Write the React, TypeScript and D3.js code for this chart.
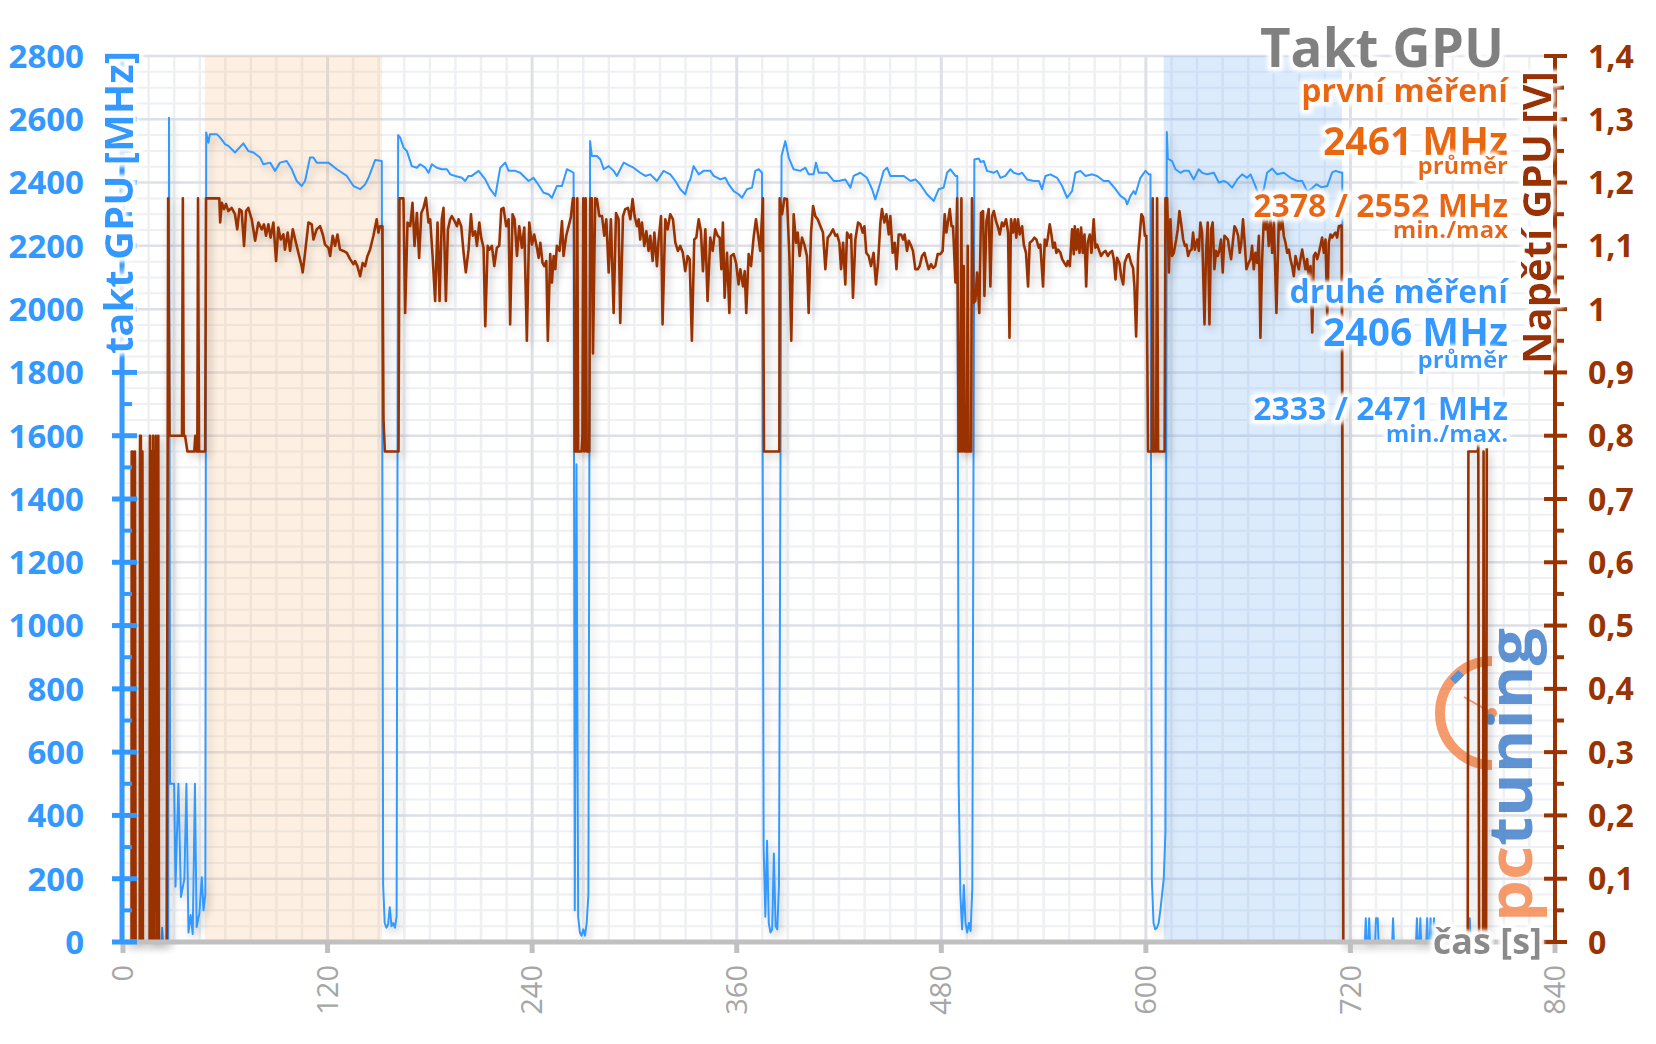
import React from 'react';
import * as d3 from 'd3';

type P = [number, number];

// ---------- DATA ----------
const xTicks = [0, 120, 240, 360, 480, 600, 720, 840];
const clockTicks = [0, 200, 400, 600, 800, 1000, 1200, 1400, 1600, 1800, 2000, 2200, 2400, 2600, 2800];
const voltTicks = [0, 0.1, 0.2, 0.3, 0.4, 0.5, 0.6, 0.7, 0.8, 0.9, 1.0, 1.1, 1.2, 1.3, 1.4];
const voltLabels = ['0', '0,1', '0,2', '0,3', '0,4', '0,5', '0,6', '0,7', '0,8', '0,9', '1', '1,1', '1,2', '1,3', '1,4'];
const bandFirst: P = [48, 152];
const bandSecond: P = [610.5, 715];

// GPU clock [MHz] as [time s, MHz]
const clockA: P[] = [[0,0],[6.5,0],[7,20],[7.5,0],[16.5,0],[17,15],[17.5,0],[19,0],[19.5,25],[20,0],[22.5,0],[23,45],[23.5,0],[26.5,0],[27,2605],[27.6,500],[30,500],[30.8,175],[32.5,500],[34,142],[36,200],[37.2,500],[38.4,30],[39.7,85],[40.9,25],[42.2,500],[43.2,47],[44.8,90],[46.2,205],[47.2,100],[48.3,150],[48.8,2558]];
const clockB: P[] = [[50.1,2526],[51,2553],[55,2553],[57,2542],[60,2521],[61.8,2516],[65.7,2495],[70.6,2524],[73.5,2500],[76.5,2495],[80.4,2479],[82.3,2458],[86.3,2463],[89.2,2437],[92.1,2463],[96,2468],[99,2442],[101.9,2405],[104.8,2389],[106.8,2405],[109.7,2479],[111.7,2479],[113.6,2463],[120.5,2463],[125.4,2442],[131.3,2421],[135.2,2389],[139.1,2379],[142,2394],[144,2415],[147.9,2471],[151.8,2468],[152.6,180],[153.5,60],[154.5,45],[155.5,55],[156.5,110],[157.5,50],[158.5,60],[159.5,45],[160.5,80],[161.4,2550]];
const clockC: P[] = [[162.6,2542],[164.6,2510],[166.5,2500],[169.4,2452],[172.4,2447],[174.3,2458],[177.3,2447],[179.2,2431],[181.2,2458],[184.1,2447],[187,2442],[190,2442],[192,2426],[194.9,2421],[198.8,2415],[200.7,2405],[202.7,2421],[204.6,2421],[208.6,2437],[212.5,2410],[215.4,2379],[218.4,2358],[221.3,2447],[224.2,2463],[226.2,2437],[230.1,2437],[233,2431],[237.9,2405],[240.8,2415],[242.8,2400],[246.7,2368],[249.6,2363],[251.6,2352],[254.5,2389],[257.5,2389],[260.4,2442],[262.4,2437],[264.3,2431],[265,100],[266,1510],[267,80],[268,30],[269,20],[270,40],[271,20],[272,60],[273,150]];
const clockD: P[] = [[274,2531],[275,2484],[278,2484],[280,2473],[282,2442],[284.9,2452],[287.8,2437],[289.7,2421],[293.7,2463],[297.6,2452],[299.5,2447],[303.4,2431],[306.4,2421],[309.3,2426],[313.2,2405],[317.1,2437],[321,2426],[324,2405],[326.9,2379],[329.8,2363],[331.8,2400],[332.8,2410],[334.7,2452],[337.7,2426],[340.6,2437],[344.5,2437],[346.5,2421],[350.4,2410],[353.3,2415],[355.3,2394],[358.2,2373],[361.1,2363],[363.1,2352],[366,2379],[369,2384],[370.9,2437],[372.9,2442],[374.8,2431],[375.8,300],[376.8,80],[377.8,320],[378.8,60],[379.8,30],[380.8,40],[381.8,280],[382.8,50],[383.8,40],[384.8,180]];
const clockE: P[] = [[386.3,2484],[388.5,2531],[390.5,2479],[393.4,2442],[397.3,2437],[400.3,2447],[402.2,2426],[405.1,2426],[406.5,2463],[408.1,2431],[413,2431],[416.9,2405],[419.8,2405],[423.7,2410],[426.7,2384],[428.6,2421],[432.5,2431],[436.4,2415],[439.4,2379],[441.3,2347],[444.3,2400],[446.2,2437],[448.2,2447],[450.1,2421],[454,2421],[458,2421],[461.9,2405],[464.8,2410],[467.7,2394],[471.6,2363],[475.6,2342],[478.5,2379],[481.4,2384],[483.4,2431],[485.3,2442],[488.3,2421],[489.4,2421],[490.2,500],[491.2,150],[492.2,40],[493.2,180],[494.2,60],[495.2,30],[496.2,60],[497.2,35],[498.2,170]];
const clockF: P[] = [[499.4,2473],[502,2476],[503,2465],[504.9,2468],[506.8,2437],[510.8,2431],[512.7,2437],[514.7,2415],[517.6,2421],[520.5,2442],[522.5,2431],[525.4,2426],[527.4,2431],[530.3,2410],[534.2,2405],[537.2,2405],[539.1,2379],[541.1,2421],[544,2426],[547.9,2415],[550.9,2389],[553.8,2352],[556.7,2373],[558.7,2431],[561.6,2437],[564.6,2421],[568.5,2426],[571.4,2421],[575.3,2405],[578.2,2405],[582.2,2379],[585.1,2358],[588,2347],[589,2331],[591,2358],[592.9,2373],[593.9,2363],[596.8,2415],[599.8,2437],[601.7,2426],[602.7,2426],[603.5,200],[604.5,60],[605.5,40],[606.5,45],[607.5,60],[608.5,100],[609.5,150],[610.5,200],[611.5,350]];
const clockG: P[] = [[612.3,2560],[612.9,2476],[615.4,2468],[617.4,2442],[620.3,2431],[622.3,2437],[625.2,2437],[628.1,2410],[631,2442],[633,2431],[635.9,2426],[639.9,2431],[642.8,2400],[645.8,2405],[647.7,2400],[650.6,2384],[653.6,2410],[656.5,2426],[659.4,2415],[661.4,2426],[664.3,2389],[666.3,2358],[669.2,2379],[671.1,2431],[674.1,2444],[677,2426],[680.9,2431],[684.8,2415],[688.8,2405],[691.7,2405],[694.6,2373],[697,2380],[700,2395],[703,2385],[706.4,2389],[709.3,2432],[711.3,2437],[714.2,2432],[715.2,2432],[715.8,0],[728.5,0],[729,75],[729.5,0],[730.5,0],[731,75],[731.5,0],[734.5,0],[735,75],[736,75],[736.5,0],[744.5,0],[745,75],[745.5,0],[758.5,0],[759,75],[759.5,0],[760.5,0],[761,75],[761.5,0],[764.5,0],[765,75],[765.5,0],[766.5,0],[767,75],[767.5,0],[768.5,0],[769,75],[769.5,0],[789.5,0],[790,75],[790.5,0],[800,0]];

// GPU voltage [V] as [time s, V]
const voltA: P[] = [[0,0],[5,0],[5.1,0.775],[5.6,0.775],[5.8,0],[6.8,0],[7,0.775],[7.4,0],[9.8,0],[10,0.8],[10.5,0.8],[10.7,0],[11.2,0],[11.4,0.775],[11.7,0],[15.6,0],[15.8,0.8],[16.2,0],[16.8,0.775],[17.2,0],[17.6,0.8],[18,0],[18.4,0.775],[18.8,0.05],[19.2,0.8],[19.6,0],[20,0.775],[20.4,0],[20.7,0.8],[21.1,0],[25.6,0],[26.5,1.175],[27.3,0.8],[34.6,0.8],[35.1,1.175],[35.6,0.8],[36.4,0.8],[37.8,0.775],[41.8,0.775],[42.4,0.8],[43,0.775],[43.6,0.775],[44,1.175],[44.6,0.775],[48.2,0.775],[48.7,1.175],[56,1.175]];
const voltB: P[] = [[56.5,1.175],[57,1.137],[58,1.168],[59.3,1.158],[60.4,1.166],[61.8,1.155],[63.7,1.160],[65.7,1.150],[67,1.126],[68.3,1.158],[69.6,1.155],[71,1.100],[72.2,1.155],[73.5,1.160],[75.5,1.142],[77.5,1.108],[79.4,1.137],[81.4,1.126],[82.7,1.134],[83.9,1.116],[85.3,1.134],[86.6,1.113],[88.2,1.137],[89.8,1.076],[91.1,1.129],[92.5,1.110],[94.1,1.118],[95,1.094],[96.6,1.121],[98,1.092],[99.6,1.126],[101,1.110],[102.9,1.089],[104.8,1.068],[105.4,1.058],[106.8,1.089],[108.8,1.137],[110.7,1.134],[111.7,1.110],[113.6,1.126],[115.6,1.131],[117.2,1.118],[118.5,1.102],[120.5,1.097],[121.5,1.084],[123,1.116],[124.4,1.100],[125.8,1.118],[127.3,1.094],[129.3,1.092],[131.3,1.089],[133.2,1.079],[135.2,1.071],[136.1,1.076],[137.5,1.068],[139.1,1.052],[140.6,1.073],[142,1.068],[143.4,1.084],[144.9,1.094],[146.9,1.116],[148.8,1.142],[149.8,1.121],[150.8,1.131],[152.2,1.131],[152.8,0.826],[153.6,0.775],[161.6,0.775],[162.2,1.175]];
const voltC: P[] = [[164.5,1.175],[165.5,0.994],[166.9,1.137],[168.5,1.131],[169.8,1.168],[171,1.100],[172.4,1.152],[173.7,1.081],[175,1.152],[176.3,1.160],[177.7,1.176],[179.2,1.137],[180.2,1.142],[181.6,1.084],[183.1,1.013],[184.5,1.137],[185.7,1.013],[187,1.142],[188,1.160],[189.4,1.013],[190.6,1.126],[191.9,1.142],[192.9,1.147],[194.5,1.139],[195.9,1.131],[196.8,1.142],[198.4,1.131],[199.8,1.089],[201.1,1.058],[202.7,1.094],[204.1,1.150],[205.2,1.116],[206.6,1.123],[207.6,1.100],[209,1.137],[210.1,1.113],[211.5,1.097],[212.5,0.973],[213.9,1.100],[215,1.094],[216.4,1.100],[217.8,1.068],[219.3,1.097],[220.7,1.100],[221.9,1.158],[223.2,1.160],[224.8,1.131],[226.2,1.142],[227.1,0.976],[228.5,1.150],[229.7,1.142],[231.1,1.084],[232.4,1.131],[234,1.097],[235.4,1.129],[236.9,0.950],[238.3,1.137],[239.9,1.102],[241.2,1.118],[242.8,1.097],[243.8,1.081],[244.8,1.105],[246.1,1.073],[247.1,1.068],[248.3,1.076],[249.2,0.950],[250.6,1.087],[251.6,1.042],[252.6,1.084],[253.6,1.063],[254.5,1.100],[256.1,1.092],[257.5,1.139],[258.4,1.084],[260,1.116],[261.4,1.131],[262.7,1.145],[263.9,1.175],[264.6,1.175],[265,0.775],[266,0.775],[266.5,1.175],[267,0.775],[269,0.775],[269.5,0.8],[270,1.175],[270.5,0.775],[271.4,1.175],[272,0.775],[273.5,0.775],[274.1,1.175],[275,1.175],[275.7,0.93],[277,1.175]];
const voltD: P[] = [[278,1.174],[279.4,1.147],[281,1.147],[282.3,1.116],[283.5,1.142],[284.9,1.058],[286.2,1.142],[287.8,0.994],[289.2,1.152],[290.7,1.142],[291.7,0.978],[293.3,1.147],[294.6,1.158],[296.2,1.160],[297.6,1.142],[298.9,1.174],[300.1,1.147],[301.5,1.131],[302.5,1.142],[303.4,1.110],[304.4,1.137],[305.8,1.100],[307,1.123],[308.3,1.092],[309.3,1.116],[310.7,1.076],[311.7,1.121],[313.2,1.068],[314.2,1.110],[315.6,1.147],[316.5,0.976],[318.1,1.142],[319.5,1.126],[321,1.150],[322.6,1.142],[324,1.105],[325.5,1.092],[326.9,1.100],[328.4,1.089],[329.8,1.060],[331.2,1.084],[332.4,1.079],[333.7,0.950],[335.1,1.110],[336.3,1.113],[337.7,1.142],[339,1.123],[340.2,1.060],[341.6,1.126],[342.9,1.013],[344.5,1.113],[345.9,1.092],[347.4,1.126],[348.8,1.116],[350,1.113],[351,1.063],[351.9,1.137],[352.9,1.018],[354.3,1.089],[355.7,0.994],[356.6,1.084],[358.2,1.087],[359.6,1.073],[361.1,1.039],[362.1,1.063],[363.7,1.036],[364.7,1.060],[365.6,0.994],[367,1.087],[368.4,1.068],[369.9,1.113],[371.3,1.142],[372.5,1.118],[373.8,1.092],[375.4,1.175],[376,0.775],[385,0.775],[385.2,1.175]];
const voltE: P[] = [[386.6,1.150],[388,1.175],[389.5,1.174],[390.9,1.084],[392,0.950],[393.4,1.150],[394.8,1.105],[395.8,1.121],[396.9,1.084],[398.3,1.113],[399.7,1.102],[401.2,1.084],[402.2,0.994],[403.6,1.121],[404.8,1.163],[406.1,1.147],[407.5,1.142],[409.1,1.131],[410.6,1.121],[412,1.063],[413.4,1.113],[414.9,1.118],[416.5,1.126],[417.9,1.116],[418.9,1.118],[420.2,1.105],[421.2,1.063],[422.4,1.105],[423.7,1.039],[424.7,1.121],[426.1,1.113],[427.1,1.118],[428.2,1.018],[429.6,1.110],[431.2,1.137],[432.5,1.134],[433.9,1.121],[434.9,1.131],[436,1.089],[437.4,1.084],[438.8,1.068],[440.3,1.089],[441.7,1.039],[442.9,1.073],[444.3,1.137],[445.2,1.158],[446.6,1.137],[447.8,1.150],[449.2,1.118],[450.1,1.147],[451.5,1.089],[452.7,1.105],[453.7,1.063],[455,1.118],[456.4,1.118],[457.6,1.110],[458.5,1.118],[459.9,1.092],[460.9,1.108],[462.3,1.100],[463.4,1.092],[464.8,1.063],[466.2,1.063],[467.3,1.068],[468.7,1.084],[470.1,1.089],[471.6,1.073],[472.6,1.063],[474,1.071],[475.2,1.065],[476.5,1.068],[477.9,1.087],[479.5,1.087],[480.8,1.092],[482,1.150],[483,1.121],[484,1.139],[485,1.158],[486,1.131],[486.9,1.131],[488.3,1.042],[489.3,1.175],[490.2,0.775],[491,0.775],[491.8,1.175],[492.3,0.775],[493.2,1.068],[493.7,0.775],[495,0.775],[495.5,1.1],[496,0.775],[497.5,0.775],[498,1.175]];
const voltF: P[] = [[499,1.010],[500,1.013],[501,1.058],[502.3,0.994],[503.3,1.152],[504.5,1.155],[505.3,1.021],[506.5,1.139],[507.8,1.158],[508.8,1.036],[509.8,1.147],[510.8,1.155],[512.1,1.139],[513.3,1.129],[514.3,1.118],[515.6,1.137],[516.6,1.131],[518,1.142],[519.2,1.121],[520,0.955],[520.9,1.142],[522.1,1.121],[523.1,1.142],[524,1.113],[525,1.142],[526,1.118],[527.4,1.131],[528.4,1.102],[529.7,1.089],[530.9,1.036],[531.9,1.105],[533.3,1.108],[534.6,1.113],[535.8,1.110],[537.2,1.097],[538.1,1.102],[539.7,1.036],[540.7,1.110],[541.7,1.100],[542.5,1.113],[543.6,1.134],[544.6,1.118],[545.6,1.097],[546.6,1.105],[547.5,1.089],[548.5,1.094],[549.9,1.089],[550.9,1.079],[552.2,1.073],[553.4,1.068],[554.2,1.076],[555.4,1.068],[556.7,1.126],[557.7,1.087],[558.3,1.131],[559.3,1.094],[560.1,1.126],[561.1,1.089],[562,1.129],[563,1.089],[564,1.118],[565,1.036],[565.9,1.105],[567.1,1.118],[568.1,1.089],[569.4,1.142],[570.4,1.097],[571.4,1.102],[572.4,1.094],[573.7,1.084],[574.9,1.089],[576.3,1.092],[577.7,1.084],[578.8,1.089],[580.2,1.092],[581.2,1.079],[582.2,1.047],[583.1,1.081],[584.5,1.073],[585.5,1.052],[586.7,1.039],[587.6,1.073],[589,1.084],[590,1.087],[591.3,1.073],[592.5,1.065],[593.3,1.036],[594.3,0.957],[595.5,1.089],[596.4,1.116],[597.4,1.150],[598.4,1.145],[599.4,1.116],[600.3,1.116],[601.3,0.775],[602,0.775],[603.5,0.775],[604,1.175],[604.5,0.775],[606,0.775],[606.6,1.175],[607.2,0.775],[611,0.775],[611.5,1.175]];
const voltG: P[] = [[612.5,1.175],[613.5,1.058],[614.4,1.142],[615.4,1.084],[616.4,1.089],[617.8,1.110],[618.7,1.126],[619.7,1.155],[620.9,1.131],[621.9,1.110],[622.9,1.100],[623.8,1.102],[624.8,1.084],[625.8,1.092],[626.8,1.094],[627.7,1.121],[628.7,1.094],[630.1,1.110],[631.1,1.092],[632,1.137],[633,1.121],[634.4,0.976],[635.3,1.089],[636.3,1.137],[637.3,0.976],[638.3,1.126],[639.2,1.137],[640.2,1.063],[641.2,1.092],[642.2,1.084],[643.2,1.094],[644.1,1.110],[645.1,1.058],[646.1,1.116],[647.1,1.113],[648.1,1.110],[649,1.094],[650,1.079],[651,1.105],[652,1.131],[653,1.126],[654.1,1.116],[655.1,1.089],[656,1.105],[657,1.142],[658.1,1.100],[659,1.063],[660.3,1.073],[661.4,1.079],[662.3,1.100],[663.3,1.063],[664.3,1.089],[665.3,1.073],[666.3,1.116],[667.2,0.955],[668.2,1.079],[669.2,1.142],[670.2,1.126],[671.1,1.142],[672.1,1.100],[673.1,1.142],[674.1,1.089],[675.1,1.137],[676.6,0.994],[678,1.142],[679,1.126],[680,1.142],[680.9,1.116],[681.9,1.105],[682.9,1.089],[683.9,1.094],[684.8,1.079],[685.8,1.068],[686.8,1.052],[687.8,1.084],[688.7,1.073],[689.7,1.063],[690.7,1.079],[691.7,1.094],[693.6,1.063],[694.6,1.079],[695.6,1.047],[696.6,1.068],[697.6,0.963],[698.5,1.084],[699.5,1.089],[700.5,1.079],[701.5,1.089],[702.4,1.100],[703.4,1.113],[704.4,1.089],[705.4,1.110],[706.4,0.989],[707.3,1.105],[708.3,1.118],[709.3,1.113],[710.3,1.118],[711.2,1.121],[712.2,1.113],[713.2,1.131],[714.2,1.132],[714.8,1.132],[715.2,0.8],[715.8,0],[788.8,0],[789.2,0.775],[794.8,0.775],[795,0.79],[795.5,0],[797.8,0],[798.1,0.775],[798.6,0],[799.6,0],[800,0.78]];

const clockData: P[] = [...clockA, ...clockB, ...clockC, ...clockD, ...clockE, ...clockF, ...clockG];
const voltData: P[] = [...voltA, ...voltB, ...voltC, ...voltD, ...voltE, ...voltF, ...voltG];

// ---------- LAYOUT ----------
const W = 1656, H = 1044;
const X0 = 123, X1 = 1555, YB = 942, YT = 56;
const FONT = "'Open Sans', 'Noto Sans', 'DejaVu Sans', sans-serif";
const BLUE = '#3399ff';
const BROWN = '#993300';
const ORANGE = '#ea670b';

export default function App() {
  const x = d3.scaleLinear().domain([0, 840]).range([X0, X1]);
  const yC = d3.scaleLinear().domain([0, 2800]).range([YB, YT]);
  const yV = d3.scaleLinear().domain([0, 1.4]).range([YB, YT]);

  const lineC = d3.line<P>().x(d => x(d[0])).y(d => yC(d[1]));
  const lineV = d3.line<P>().x(d => x(d[0])).y(d => yV(d[1]));

  const hMinor = d3.range(0, 2801, 50).filter(v => v % 200 !== 0);
  const hMajor = d3.range(0, 2801, 200);
  const vMinor = d3.range(0, 841, 15).filter(v => v % 120 !== 0);
  const vMajor = d3.range(0, 841, 120);
  const clockMinor = d3.range(100, 2800, 200);
  const voltMinor = d3.range(0.05, 1.4, 0.1);

  const glow = 'url(#glow)';

  const rightText = (s: string, y: number, size: number, color: string) => (
    <text x={1508} y={y} textAnchor="end" fontSize={size} fontWeight={700} fill={color} filter={glow}>{s}</text>
  );

  const cx = 1492, cy = 713, r = 52;

  return (
    <svg width={W} height={H} style={{ position: 'absolute', left: 0, top: 0, background: '#fff' }} fontFamily={FONT}>
      <defs>
        <filter id="glow" x="-15%" y="-40%" width="130%" height="180%">
          <feMorphology in="SourceAlpha" operator="dilate" radius="2.5" result="d" />
          <feGaussianBlur in="d" stdDeviation="2.2" result="b" />
          <feFlood floodColor="#ffffff" />
          <feComposite in2="b" operator="in" result="g" />
          <feMerge>
            <feMergeNode in="g" />
            <feMergeNode in="g" />
            <feMergeNode in="SourceGraphic" />
          </feMerge>
        </filter>
        <filter id="shadow" filterUnits="userSpaceOnUse" x="0" y="0" width={W} height={H}>
          <feGaussianBlur in="SourceAlpha" stdDeviation="4" />
          <feOffset dx="3" dy="4" result="o" />
          <feComponentTransfer in="o" result="s">
            <feFuncA type="linear" slope="0.22" />
          </feComponentTransfer>
          <feMerge>
            <feMergeNode in="s" />
            <feMergeNode in="SourceGraphic" />
          </feMerge>
        </filter>
      </defs>
      <rect x={0} y={0} width={W} height={H} fill="#fff" />

      {/* grid */}
      {hMinor.map(v => <line key={'hm' + v} x1={X0} x2={X1} y1={yC(v)} y2={yC(v)} stroke="#eef0f4" strokeWidth={2} />)}
      {vMinor.map(v => <line key={'vm' + v} x1={x(v)} x2={x(v)} y1={YT} y2={YB} stroke="#eef0f4" strokeWidth={2.5} />)}
      {hMajor.map(v => <line key={'hM' + v} x1={X0} x2={X1} y1={yC(v)} y2={yC(v)} stroke="#dde0e7" strokeWidth={2.5} />)}
      {vMajor.map(v => <line key={'vM' + v} x1={x(v)} x2={x(v)} y1={YT} y2={YB} stroke="#dde0e7" strokeWidth={3} />)}

      {/* measurement bands */}
      <rect x={x(bandFirst[0])} y={YT} width={x(bandFirst[1]) - x(bandFirst[0])} height={YB - YT} fill="rgb(247,190,135)" fillOpacity={0.25} />
      <rect x={x(bandSecond[0])} y={YT} width={x(bandSecond[1]) - x(bandSecond[0])} height={YB - YT} fill="rgb(110,175,245)" fillOpacity={0.25} />

      {/* pctuning logo */}
      <g opacity={0.82}>
        <path d={`M${cx},${cy - r} A${r},${r} 0 0 0 ${cx},${cy + r}`} fill="none" stroke="#f4864c" strokeWidth={10} />
        <line x1={cx} y1={cy} x2={cx - 28} y2={cy - 16} stroke="#f4864c" strokeWidth={2} />
        <circle cx={cx} cy={cy} r={5} fill="#f4864c" />
        <rect x={cx - 41} y={cy - 40} width={12} height={8} fill="#3d7cc9" transform={`rotate(-45 ${cx - 35} ${cy - 36})`} />
        <text transform="translate(1532,922) rotate(-90)" fontSize={60} fontWeight={700} textLength={294} lengthAdjust="spacingAndGlyphs">
          <tspan fill="#f4864c">pc</tspan><tspan fill="#3d7cc9">tuning</tspan>
        </text>
      </g>

      {/* series */}
      <path d={lineC(clockData) || ''} fill="none" stroke={BLUE} strokeWidth={2} strokeLinejoin="round" filter="url(#shadow)" />
      <path d={lineV(voltData) || ''} fill="none" stroke={BROWN} strokeWidth={2.6} strokeLinejoin="round" filter="url(#shadow)" />

      {/* x axis */}
      <line x1={X0 - 2} x2={X1} y1={YB} y2={YB} stroke="#c0c0c0" strokeWidth={5} />
      {xTicks.map(t => (
        <g key={'xt' + t}>
          <line x1={x(t)} x2={x(t)} y1={YB} y2={YB + 11} stroke="#c0c0c0" strokeWidth={5} />
          <text transform={`translate(${x(t)},${YB + 23}) rotate(-90)`} textAnchor="end" dy="0.35em" fontSize={29} fill="#a6a6a6">{t}</text>
        </g>
      ))}

      {/* left axis */}
      <line x1={122} x2={122} y1={YT} y2={YB + 2} stroke={BLUE} strokeWidth={5} />
      {clockTicks.map(v => (
        <g key={'ct' + v}>
          <line x1={112} x2={137} y1={yC(v)} y2={yC(v)} stroke={BLUE} strokeWidth={5} />
          <text x={84} y={yC(v)} dy="0.36em" textAnchor="end" fontSize={33} fontWeight={700} fill={BLUE}>{v}</text>
        </g>
      ))}
      {clockMinor.map(v => <line key={'cm' + v} x1={122} x2={132} y1={yC(v)} y2={yC(v)} stroke={BLUE} strokeWidth={4} />)}
      <text transform="translate(133,354) rotate(-90)" fontSize={40} fontWeight={700} fill={BLUE} filter={glow}>takt GPU [MHz]</text>

      {/* right axis */}
      <line x1={1555} x2={1555} y1={YT} y2={YB + 2} stroke={BROWN} strokeWidth={4} />
      {voltTicks.map((v, i) => (
        <g key={'vt' + i}>
          <line x1={1544} x2={1567} y1={yV(v)} y2={yV(v)} stroke={BROWN} strokeWidth={4} />
          <text x={1588} y={yV(v)} dy="0.36em" fontSize={32} fontWeight={700} fill={BROWN}>{voltLabels[i]}</text>
        </g>
      ))}
      {voltMinor.map((v, i) => <line key={'vmn' + i} x1={1555} x2={1564} y1={yV(v)} y2={yV(v)} stroke={BROWN} strokeWidth={4} />)}
      <text transform="translate(1551,364) rotate(-90)" fontSize={40} fontWeight={700} fill={BROWN} filter={glow}>Napětí GPU [V]</text>

      {/* x axis title */}
      <text x={1542} y={954} textAnchor="end" fontSize={36} fontWeight={700} fill="#8a8a8a" filter={glow}>čas [s]</text>

      {/* annotation block */}
      <text x={1504} y={67} textAnchor="end" fontSize={53} fontWeight={700} fill="#808080" filter={glow}>Takt GPU</text>
      {rightText('první měření', 102, 32, ORANGE)}
      {rightText('2461 MHz', 155, 39, ORANGE)}
      {rightText('průměr', 174, 24, ORANGE)}
      {rightText('2378 / 2552 MHz', 217, 32, ORANGE)}
      {rightText('min./max', 238, 24, ORANGE)}
      {rightText('druhé měření', 303, 32, BLUE)}
      {rightText('2406 MHz', 346, 39, BLUE)}
      {rightText('průměr', 368, 24, BLUE)}
      {rightText('2333 / 2471 MHz', 420, 32, BLUE)}
      {rightText('min./max.', 442, 24, BLUE)}
    </svg>
  );
}
